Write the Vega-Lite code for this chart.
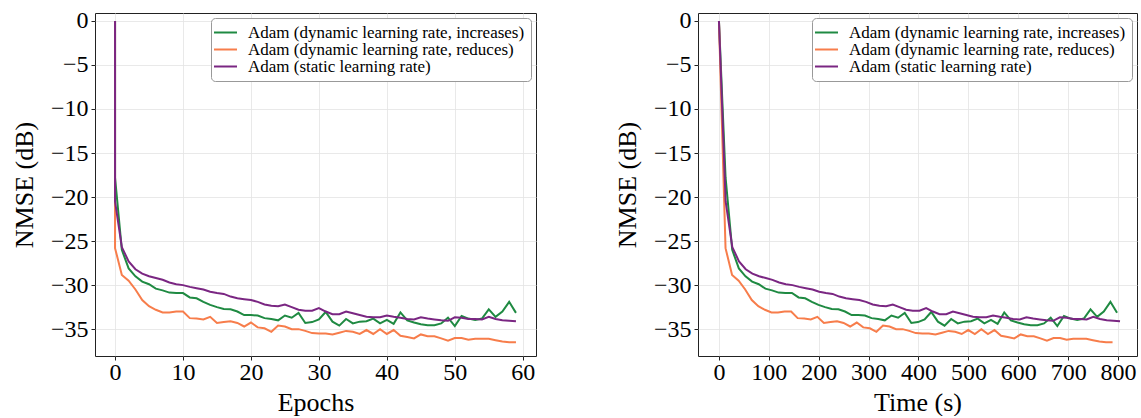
{
  "$schema": "https://vega.github.io/schema/vega-lite/v6.json",
  "padding": {"left": 10, "top": 8, "right": 4, "bottom": 0},
  "background": "white",
  "spacing": 162,
  "bounds": "flush",
  "config": {
    "font": "Liberation Serif",
    "view": {"stroke": "#222", "strokeWidth": 1},
    "text": {"font": "Liberation Serif"},
    "axis": {
      "labelFont": "Liberation Serif",
      "titleFont": "Liberation Serif",
      "labelFontSize": 24,
      "titleFontSize": 26,
      "titleFontWeight": "normal",
      "labelColor": "#000",
      "titleColor": "#000",
      "tickColor": "#222",
      "tickSize": 4,
      "domain": false,
      "grid": true,
      "gridColor": "#e3e3e3",
      "gridWidth": 0.8,
      "labelPadding": 3,
      "labelFlush": false,
      "labelOverlap": false
    },
    "axisY": {"titlePadding": 13},
    "axisX": {"titlePadding": 5, "labelPadding": 0},
    "legend": {
      "orient": "top-right",
      "offset": 5,
      "labelFont": "Liberation Serif",
      "labelFontSize": 17,
      "labelColor": "#000",
      "labelLimit": 0,
      "symbolType": "M-2,0H2",
      "symbolSize": 132,
      "symbolStrokeWidth": 2,
      "labelOffset": 14,
      "rowPadding": -3,
      "strokeColor": "#999",
      "fillColor": "white",
      "cornerRadius": 4,
      "padding": 6
    }
  },
  "data": {
    "values": [
      {"series": "Adam (dynamic learning rate, increases)", "i": 0, "epoch": 0, "time": 0, "nmse": 0},
      {"series": "Adam (dynamic learning rate, increases)", "i": 1, "epoch": 0, "time": 13.3, "nmse": -17.8},
      {"series": "Adam (dynamic learning rate, increases)", "i": 2, "epoch": 1, "time": 26.6, "nmse": -26.0},
      {"series": "Adam (dynamic learning rate, increases)", "i": 3, "epoch": 2, "time": 39.9, "nmse": -28.1},
      {"series": "Adam (dynamic learning rate, increases)", "i": 4, "epoch": 3, "time": 53.2, "nmse": -29.0},
      {"series": "Adam (dynamic learning rate, increases)", "i": 5, "epoch": 4, "time": 66.5, "nmse": -29.6},
      {"series": "Adam (dynamic learning rate, increases)", "i": 6, "epoch": 5, "time": 79.8, "nmse": -29.9},
      {"series": "Adam (dynamic learning rate, increases)", "i": 7, "epoch": 6, "time": 93.1, "nmse": -30.4},
      {"series": "Adam (dynamic learning rate, increases)", "i": 8, "epoch": 7, "time": 106.4, "nmse": -30.6},
      {"series": "Adam (dynamic learning rate, increases)", "i": 9, "epoch": 8, "time": 119.7, "nmse": -30.85},
      {"series": "Adam (dynamic learning rate, increases)", "i": 10, "epoch": 9, "time": 133.0, "nmse": -30.9},
      {"series": "Adam (dynamic learning rate, increases)", "i": 11, "epoch": 10, "time": 146.3, "nmse": -30.9},
      {"series": "Adam (dynamic learning rate, increases)", "i": 12, "epoch": 11, "time": 159.6, "nmse": -31.4},
      {"series": "Adam (dynamic learning rate, increases)", "i": 13, "epoch": 12, "time": 172.9, "nmse": -31.5},
      {"series": "Adam (dynamic learning rate, increases)", "i": 14, "epoch": 13, "time": 186.2, "nmse": -31.9},
      {"series": "Adam (dynamic learning rate, increases)", "i": 15, "epoch": 14, "time": 199.5, "nmse": -32.25},
      {"series": "Adam (dynamic learning rate, increases)", "i": 16, "epoch": 15, "time": 212.8, "nmse": -32.5},
      {"series": "Adam (dynamic learning rate, increases)", "i": 17, "epoch": 16, "time": 226.1, "nmse": -32.7},
      {"series": "Adam (dynamic learning rate, increases)", "i": 18, "epoch": 17, "time": 239.4, "nmse": -32.75},
      {"series": "Adam (dynamic learning rate, increases)", "i": 19, "epoch": 18, "time": 252.7, "nmse": -33.0},
      {"series": "Adam (dynamic learning rate, increases)", "i": 20, "epoch": 19, "time": 266.0, "nmse": -33.4},
      {"series": "Adam (dynamic learning rate, increases)", "i": 21, "epoch": 20, "time": 279.3, "nmse": -33.4},
      {"series": "Adam (dynamic learning rate, increases)", "i": 22, "epoch": 21, "time": 292.6, "nmse": -33.45},
      {"series": "Adam (dynamic learning rate, increases)", "i": 23, "epoch": 22, "time": 305.9, "nmse": -33.75},
      {"series": "Adam (dynamic learning rate, increases)", "i": 24, "epoch": 23, "time": 319.2, "nmse": -33.85},
      {"series": "Adam (dynamic learning rate, increases)", "i": 25, "epoch": 24, "time": 332.5, "nmse": -34.0},
      {"series": "Adam (dynamic learning rate, increases)", "i": 26, "epoch": 25, "time": 345.8, "nmse": -33.45},
      {"series": "Adam (dynamic learning rate, increases)", "i": 27, "epoch": 26, "time": 359.1, "nmse": -33.7},
      {"series": "Adam (dynamic learning rate, increases)", "i": 28, "epoch": 27, "time": 372.4, "nmse": -33.15},
      {"series": "Adam (dynamic learning rate, increases)", "i": 29, "epoch": 28, "time": 385.7, "nmse": -34.3},
      {"series": "Adam (dynamic learning rate, increases)", "i": 30, "epoch": 29, "time": 399.0, "nmse": -34.2},
      {"series": "Adam (dynamic learning rate, increases)", "i": 31, "epoch": 30, "time": 412.3, "nmse": -33.9},
      {"series": "Adam (dynamic learning rate, increases)", "i": 32, "epoch": 31, "time": 425.6, "nmse": -33.05},
      {"series": "Adam (dynamic learning rate, increases)", "i": 33, "epoch": 32, "time": 438.9, "nmse": -34.15},
      {"series": "Adam (dynamic learning rate, increases)", "i": 34, "epoch": 33, "time": 452.2, "nmse": -34.6},
      {"series": "Adam (dynamic learning rate, increases)", "i": 35, "epoch": 34, "time": 465.5, "nmse": -33.85},
      {"series": "Adam (dynamic learning rate, increases)", "i": 36, "epoch": 35, "time": 478.8, "nmse": -34.35},
      {"series": "Adam (dynamic learning rate, increases)", "i": 37, "epoch": 36, "time": 492.1, "nmse": -34.15},
      {"series": "Adam (dynamic learning rate, increases)", "i": 38, "epoch": 37, "time": 505.4, "nmse": -34.1},
      {"series": "Adam (dynamic learning rate, increases)", "i": 39, "epoch": 38, "time": 518.7, "nmse": -33.8},
      {"series": "Adam (dynamic learning rate, increases)", "i": 40, "epoch": 39, "time": 532.0, "nmse": -34.35},
      {"series": "Adam (dynamic learning rate, increases)", "i": 41, "epoch": 40, "time": 545.3, "nmse": -33.95},
      {"series": "Adam (dynamic learning rate, increases)", "i": 42, "epoch": 41, "time": 558.6, "nmse": -34.4},
      {"series": "Adam (dynamic learning rate, increases)", "i": 43, "epoch": 42, "time": 571.9, "nmse": -33.1},
      {"series": "Adam (dynamic learning rate, increases)", "i": 44, "epoch": 43, "time": 585.2, "nmse": -34.0},
      {"series": "Adam (dynamic learning rate, increases)", "i": 45, "epoch": 44, "time": 598.5, "nmse": -34.25},
      {"series": "Adam (dynamic learning rate, increases)", "i": 46, "epoch": 45, "time": 611.8, "nmse": -34.45},
      {"series": "Adam (dynamic learning rate, increases)", "i": 47, "epoch": 46, "time": 625.1, "nmse": -34.55},
      {"series": "Adam (dynamic learning rate, increases)", "i": 48, "epoch": 47, "time": 638.4, "nmse": -34.55},
      {"series": "Adam (dynamic learning rate, increases)", "i": 49, "epoch": 48, "time": 651.7, "nmse": -34.35},
      {"series": "Adam (dynamic learning rate, increases)", "i": 50, "epoch": 49, "time": 665.0, "nmse": -33.7},
      {"series": "Adam (dynamic learning rate, increases)", "i": 51, "epoch": 50, "time": 678.3, "nmse": -34.65},
      {"series": "Adam (dynamic learning rate, increases)", "i": 52, "epoch": 51, "time": 691.6, "nmse": -33.5},
      {"series": "Adam (dynamic learning rate, increases)", "i": 53, "epoch": 52, "time": 704.9, "nmse": -33.8},
      {"series": "Adam (dynamic learning rate, increases)", "i": 54, "epoch": 53, "time": 718.2, "nmse": -33.95},
      {"series": "Adam (dynamic learning rate, increases)", "i": 55, "epoch": 54, "time": 731.5, "nmse": -33.8},
      {"series": "Adam (dynamic learning rate, increases)", "i": 56, "epoch": 55, "time": 744.8, "nmse": -32.75},
      {"series": "Adam (dynamic learning rate, increases)", "i": 57, "epoch": 56, "time": 758.1, "nmse": -33.6},
      {"series": "Adam (dynamic learning rate, increases)", "i": 58, "epoch": 57, "time": 771.4, "nmse": -33.0},
      {"series": "Adam (dynamic learning rate, increases)", "i": 59, "epoch": 58, "time": 784.7, "nmse": -31.9},
      {"series": "Adam (dynamic learning rate, increases)", "i": 60, "epoch": 59, "time": 798.0, "nmse": -33.15},

      {"series": "Adam (dynamic learning rate, reduces)", "i": 0, "epoch": 0, "time": 0, "nmse": 0},
      {"series": "Adam (dynamic learning rate, reduces)", "i": 1, "epoch": 0, "time": 13.2, "nmse": -25.8},
      {"series": "Adam (dynamic learning rate, reduces)", "i": 2, "epoch": 1, "time": 26.3, "nmse": -28.85},
      {"series": "Adam (dynamic learning rate, reduces)", "i": 3, "epoch": 2, "time": 39.5, "nmse": -29.5},
      {"series": "Adam (dynamic learning rate, reduces)", "i": 4, "epoch": 3, "time": 52.6, "nmse": -30.5},
      {"series": "Adam (dynamic learning rate, reduces)", "i": 5, "epoch": 4, "time": 65.8, "nmse": -31.7},
      {"series": "Adam (dynamic learning rate, reduces)", "i": 6, "epoch": 5, "time": 78.9, "nmse": -32.4},
      {"series": "Adam (dynamic learning rate, reduces)", "i": 7, "epoch": 6, "time": 92.1, "nmse": -32.8},
      {"series": "Adam (dynamic learning rate, reduces)", "i": 8, "epoch": 7, "time": 105.2, "nmse": -33.1},
      {"series": "Adam (dynamic learning rate, reduces)", "i": 9, "epoch": 8, "time": 118.4, "nmse": -33.1},
      {"series": "Adam (dynamic learning rate, reduces)", "i": 10, "epoch": 9, "time": 131.5, "nmse": -33.0},
      {"series": "Adam (dynamic learning rate, reduces)", "i": 11, "epoch": 10, "time": 144.7, "nmse": -33.0},
      {"series": "Adam (dynamic learning rate, reduces)", "i": 12, "epoch": 11, "time": 157.8, "nmse": -33.75},
      {"series": "Adam (dynamic learning rate, reduces)", "i": 13, "epoch": 12, "time": 171.0, "nmse": -33.8},
      {"series": "Adam (dynamic learning rate, reduces)", "i": 14, "epoch": 13, "time": 184.1, "nmse": -33.9},
      {"series": "Adam (dynamic learning rate, reduces)", "i": 15, "epoch": 14, "time": 197.3, "nmse": -33.6},
      {"series": "Adam (dynamic learning rate, reduces)", "i": 16, "epoch": 15, "time": 210.4, "nmse": -34.3},
      {"series": "Adam (dynamic learning rate, reduces)", "i": 17, "epoch": 16, "time": 223.6, "nmse": -34.2},
      {"series": "Adam (dynamic learning rate, reduces)", "i": 18, "epoch": 17, "time": 236.7, "nmse": -34.1},
      {"series": "Adam (dynamic learning rate, reduces)", "i": 19, "epoch": 18, "time": 249.9, "nmse": -34.3},
      {"series": "Adam (dynamic learning rate, reduces)", "i": 20, "epoch": 19, "time": 263.0, "nmse": -34.7},
      {"series": "Adam (dynamic learning rate, reduces)", "i": 21, "epoch": 20, "time": 276.2, "nmse": -34.25},
      {"series": "Adam (dynamic learning rate, reduces)", "i": 22, "epoch": 21, "time": 289.3, "nmse": -34.8},
      {"series": "Adam (dynamic learning rate, reduces)", "i": 23, "epoch": 22, "time": 302.5, "nmse": -34.9},
      {"series": "Adam (dynamic learning rate, reduces)", "i": 24, "epoch": 23, "time": 315.6, "nmse": -35.3},
      {"series": "Adam (dynamic learning rate, reduces)", "i": 25, "epoch": 24, "time": 328.8, "nmse": -34.6},
      {"series": "Adam (dynamic learning rate, reduces)", "i": 26, "epoch": 25, "time": 341.9, "nmse": -34.7},
      {"series": "Adam (dynamic learning rate, reduces)", "i": 27, "epoch": 26, "time": 355.1, "nmse": -35.0},
      {"series": "Adam (dynamic learning rate, reduces)", "i": 28, "epoch": 27, "time": 368.2, "nmse": -35.0},
      {"series": "Adam (dynamic learning rate, reduces)", "i": 29, "epoch": 28, "time": 381.4, "nmse": -35.2},
      {"series": "Adam (dynamic learning rate, reduces)", "i": 30, "epoch": 29, "time": 394.5, "nmse": -35.45},
      {"series": "Adam (dynamic learning rate, reduces)", "i": 31, "epoch": 30, "time": 407.7, "nmse": -35.5},
      {"series": "Adam (dynamic learning rate, reduces)", "i": 32, "epoch": 31, "time": 420.8, "nmse": -35.5},
      {"series": "Adam (dynamic learning rate, reduces)", "i": 33, "epoch": 32, "time": 434.0, "nmse": -35.6},
      {"series": "Adam (dynamic learning rate, reduces)", "i": 34, "epoch": 33, "time": 447.1, "nmse": -35.4},
      {"series": "Adam (dynamic learning rate, reduces)", "i": 35, "epoch": 34, "time": 460.3, "nmse": -35.2},
      {"series": "Adam (dynamic learning rate, reduces)", "i": 36, "epoch": 35, "time": 473.4, "nmse": -35.3},
      {"series": "Adam (dynamic learning rate, reduces)", "i": 37, "epoch": 36, "time": 486.6, "nmse": -35.55},
      {"series": "Adam (dynamic learning rate, reduces)", "i": 38, "epoch": 37, "time": 499.7, "nmse": -35.1},
      {"series": "Adam (dynamic learning rate, reduces)", "i": 39, "epoch": 38, "time": 512.9, "nmse": -35.55},
      {"series": "Adam (dynamic learning rate, reduces)", "i": 40, "epoch": 39, "time": 526.0, "nmse": -35.0},
      {"series": "Adam (dynamic learning rate, reduces)", "i": 41, "epoch": 40, "time": 539.2, "nmse": -35.55},
      {"series": "Adam (dynamic learning rate, reduces)", "i": 42, "epoch": 41, "time": 552.3, "nmse": -35.1},
      {"series": "Adam (dynamic learning rate, reduces)", "i": 43, "epoch": 42, "time": 565.5, "nmse": -35.75},
      {"series": "Adam (dynamic learning rate, reduces)", "i": 44, "epoch": 43, "time": 578.6, "nmse": -35.9},
      {"series": "Adam (dynamic learning rate, reduces)", "i": 45, "epoch": 44, "time": 591.8, "nmse": -36.05},
      {"series": "Adam (dynamic learning rate, reduces)", "i": 46, "epoch": 45, "time": 604.9, "nmse": -35.6},
      {"series": "Adam (dynamic learning rate, reduces)", "i": 47, "epoch": 46, "time": 618.1, "nmse": -35.8},
      {"series": "Adam (dynamic learning rate, reduces)", "i": 48, "epoch": 47, "time": 631.2, "nmse": -35.8},
      {"series": "Adam (dynamic learning rate, reduces)", "i": 49, "epoch": 48, "time": 644.4, "nmse": -36.05},
      {"series": "Adam (dynamic learning rate, reduces)", "i": 50, "epoch": 49, "time": 657.5, "nmse": -36.3},
      {"series": "Adam (dynamic learning rate, reduces)", "i": 51, "epoch": 50, "time": 670.7, "nmse": -36.0},
      {"series": "Adam (dynamic learning rate, reduces)", "i": 52, "epoch": 51, "time": 683.8, "nmse": -36.0},
      {"series": "Adam (dynamic learning rate, reduces)", "i": 53, "epoch": 52, "time": 697.0, "nmse": -36.2},
      {"series": "Adam (dynamic learning rate, reduces)", "i": 54, "epoch": 53, "time": 710.1, "nmse": -36.1},
      {"series": "Adam (dynamic learning rate, reduces)", "i": 55, "epoch": 54, "time": 723.3, "nmse": -36.1},
      {"series": "Adam (dynamic learning rate, reduces)", "i": 56, "epoch": 55, "time": 736.4, "nmse": -36.1},
      {"series": "Adam (dynamic learning rate, reduces)", "i": 57, "epoch": 56, "time": 749.6, "nmse": -36.25},
      {"series": "Adam (dynamic learning rate, reduces)", "i": 58, "epoch": 57, "time": 762.7, "nmse": -36.4},
      {"series": "Adam (dynamic learning rate, reduces)", "i": 59, "epoch": 58, "time": 775.9, "nmse": -36.5},
      {"series": "Adam (dynamic learning rate, reduces)", "i": 60, "epoch": 59, "time": 789.0, "nmse": -36.5},

      {"series": "Adam (static learning rate)", "i": 0, "epoch": 0, "time": 0, "nmse": 0},
      {"series": "Adam (static learning rate)", "i": 1, "epoch": 0, "time": 13.4, "nmse": -20.5},
      {"series": "Adam (static learning rate)", "i": 2, "epoch": 1, "time": 26.8, "nmse": -25.7},
      {"series": "Adam (static learning rate)", "i": 3, "epoch": 2, "time": 40.2, "nmse": -27.3},
      {"series": "Adam (static learning rate)", "i": 4, "epoch": 3, "time": 53.6, "nmse": -28.2},
      {"series": "Adam (static learning rate)", "i": 5, "epoch": 4, "time": 67.0, "nmse": -28.7},
      {"series": "Adam (static learning rate)", "i": 6, "epoch": 5, "time": 80.4, "nmse": -29.0},
      {"series": "Adam (static learning rate)", "i": 7, "epoch": 6, "time": 93.8, "nmse": -29.2},
      {"series": "Adam (static learning rate)", "i": 8, "epoch": 7, "time": 107.2, "nmse": -29.4},
      {"series": "Adam (static learning rate)", "i": 9, "epoch": 8, "time": 120.6, "nmse": -29.7},
      {"series": "Adam (static learning rate)", "i": 10, "epoch": 9, "time": 134.0, "nmse": -29.9},
      {"series": "Adam (static learning rate)", "i": 11, "epoch": 10, "time": 147.4, "nmse": -30.0},
      {"series": "Adam (static learning rate)", "i": 12, "epoch": 11, "time": 160.8, "nmse": -30.2},
      {"series": "Adam (static learning rate)", "i": 13, "epoch": 12, "time": 174.2, "nmse": -30.35},
      {"series": "Adam (static learning rate)", "i": 14, "epoch": 13, "time": 187.6, "nmse": -30.5},
      {"series": "Adam (static learning rate)", "i": 15, "epoch": 14, "time": 201.0, "nmse": -30.75},
      {"series": "Adam (static learning rate)", "i": 16, "epoch": 15, "time": 214.4, "nmse": -30.9},
      {"series": "Adam (static learning rate)", "i": 17, "epoch": 16, "time": 227.8, "nmse": -31.0},
      {"series": "Adam (static learning rate)", "i": 18, "epoch": 17, "time": 241.2, "nmse": -31.3},
      {"series": "Adam (static learning rate)", "i": 19, "epoch": 18, "time": 254.6, "nmse": -31.5},
      {"series": "Adam (static learning rate)", "i": 20, "epoch": 19, "time": 268.0, "nmse": -31.6},
      {"series": "Adam (static learning rate)", "i": 21, "epoch": 20, "time": 281.4, "nmse": -31.7},
      {"series": "Adam (static learning rate)", "i": 22, "epoch": 21, "time": 294.8, "nmse": -31.9},
      {"series": "Adam (static learning rate)", "i": 23, "epoch": 22, "time": 308.2, "nmse": -32.2},
      {"series": "Adam (static learning rate)", "i": 24, "epoch": 23, "time": 321.6, "nmse": -32.35},
      {"series": "Adam (static learning rate)", "i": 25, "epoch": 24, "time": 335.0, "nmse": -32.4},
      {"series": "Adam (static learning rate)", "i": 26, "epoch": 25, "time": 348.4, "nmse": -32.2},
      {"series": "Adam (static learning rate)", "i": 27, "epoch": 26, "time": 361.8, "nmse": -32.5},
      {"series": "Adam (static learning rate)", "i": 28, "epoch": 27, "time": 375.2, "nmse": -32.8},
      {"series": "Adam (static learning rate)", "i": 29, "epoch": 28, "time": 388.6, "nmse": -32.9},
      {"series": "Adam (static learning rate)", "i": 30, "epoch": 29, "time": 402.0, "nmse": -32.9},
      {"series": "Adam (static learning rate)", "i": 31, "epoch": 30, "time": 415.4, "nmse": -32.6},
      {"series": "Adam (static learning rate)", "i": 32, "epoch": 31, "time": 428.8, "nmse": -33.0},
      {"series": "Adam (static learning rate)", "i": 33, "epoch": 32, "time": 442.2, "nmse": -33.3},
      {"series": "Adam (static learning rate)", "i": 34, "epoch": 33, "time": 455.6, "nmse": -33.3},
      {"series": "Adam (static learning rate)", "i": 35, "epoch": 34, "time": 469.0, "nmse": -33.0},
      {"series": "Adam (static learning rate)", "i": 36, "epoch": 35, "time": 482.4, "nmse": -33.2},
      {"series": "Adam (static learning rate)", "i": 37, "epoch": 36, "time": 495.8, "nmse": -33.4},
      {"series": "Adam (static learning rate)", "i": 38, "epoch": 37, "time": 509.2, "nmse": -33.6},
      {"series": "Adam (static learning rate)", "i": 39, "epoch": 38, "time": 522.6, "nmse": -33.65},
      {"series": "Adam (static learning rate)", "i": 40, "epoch": 39, "time": 536.0, "nmse": -33.65},
      {"series": "Adam (static learning rate)", "i": 41, "epoch": 40, "time": 549.4, "nmse": -33.45},
      {"series": "Adam (static learning rate)", "i": 42, "epoch": 41, "time": 562.8, "nmse": -33.6},
      {"series": "Adam (static learning rate)", "i": 43, "epoch": 42, "time": 576.2, "nmse": -33.7},
      {"series": "Adam (static learning rate)", "i": 44, "epoch": 43, "time": 589.6, "nmse": -33.85},
      {"series": "Adam (static learning rate)", "i": 45, "epoch": 44, "time": 603.0, "nmse": -33.9},
      {"series": "Adam (static learning rate)", "i": 46, "epoch": 45, "time": 616.4, "nmse": -33.65},
      {"series": "Adam (static learning rate)", "i": 47, "epoch": 46, "time": 629.8, "nmse": -33.8},
      {"series": "Adam (static learning rate)", "i": 48, "epoch": 47, "time": 643.2, "nmse": -33.9},
      {"series": "Adam (static learning rate)", "i": 49, "epoch": 48, "time": 656.6, "nmse": -34.0},
      {"series": "Adam (static learning rate)", "i": 50, "epoch": 49, "time": 670.0, "nmse": -34.05},
      {"series": "Adam (static learning rate)", "i": 51, "epoch": 50, "time": 683.4, "nmse": -33.65},
      {"series": "Adam (static learning rate)", "i": 52, "epoch": 51, "time": 696.8, "nmse": -33.7},
      {"series": "Adam (static learning rate)", "i": 53, "epoch": 52, "time": 710.2, "nmse": -33.85},
      {"series": "Adam (static learning rate)", "i": 54, "epoch": 53, "time": 723.6, "nmse": -33.85},
      {"series": "Adam (static learning rate)", "i": 55, "epoch": 54, "time": 737.0, "nmse": -33.9},
      {"series": "Adam (static learning rate)", "i": 56, "epoch": 55, "time": 750.4, "nmse": -33.6},
      {"series": "Adam (static learning rate)", "i": 57, "epoch": 56, "time": 763.8, "nmse": -33.85},
      {"series": "Adam (static learning rate)", "i": 58, "epoch": 57, "time": 777.2, "nmse": -34.0},
      {"series": "Adam (static learning rate)", "i": 59, "epoch": 58, "time": 790.6, "nmse": -34.05},
      {"series": "Adam (static learning rate)", "i": 60, "epoch": 59, "time": 804.0, "nmse": -34.1}
    ]
  },
  "resolve": {"scale": {"color": "independent", "x": "independent"}, "legend": {"color": "independent"}},
  "hconcat": [
    {
      "width": 441,
      "height": 343,
      "mark": {"type": "line", "strokeWidth": 2, "clip": true},
      "encoding": {
        "x": {"field": "epoch", "type": "quantitative",
              "scale": {"domain": [-2.95, 61.95], "nice": false, "zero": false},
              "axis": {"values": [0, 10, 20, 30, 40, 50, 60], "title": "Epochs"}},
        "y": {"field": "nmse", "type": "quantitative",
              "scale": {"domain": [-38.05, 0.9], "nice": false, "zero": false},
              "axis": {"values": [-35, -30, -25, -20, -15, -10, -5, 0], "title": "NMSE (dB)"}},
        "color": {"field": "series", "type": "nominal",
                  "scale": {"domain": ["Adam (dynamic learning rate, increases)", "Adam (dynamic learning rate, reduces)", "Adam (static learning rate)"],
                            "range": ["#1f8a42", "#f77d4b", "#7a2682"]},
                  "legend": {"title": null, "labelFont": "Liberation Serif", "labelFontSize": 17, "rowPadding": -3}},
        "order": {"field": "i", "type": "quantitative"}
      }
    },
    {
      "width": 439,
      "height": 343,
      "mark": {"type": "line", "strokeWidth": 2, "clip": true},
      "encoding": {
        "x": {"field": "time", "type": "quantitative",
              "scale": {"domain": [-42, 838], "nice": false, "zero": false},
              "axis": {"values": [0, 100, 200, 300, 400, 500, 600, 700, 800], "title": "Time (s)"}},
        "y": {"field": "nmse", "type": "quantitative",
              "scale": {"domain": [-38.05, 0.9], "nice": false, "zero": false},
              "axis": {"values": [-35, -30, -25, -20, -15, -10, -5, 0], "title": "NMSE (dB)"}},
        "color": {"field": "series", "type": "nominal",
                  "scale": {"domain": ["Adam (dynamic learning rate, increases)", "Adam (dynamic learning rate, reduces)", "Adam (static learning rate)"],
                            "range": ["#1f8a42", "#f77d4b", "#7a2682"]},
                  "legend": {"title": null, "labelFont": "Liberation Serif", "labelFontSize": 17, "rowPadding": -3}},
        "order": {"field": "i", "type": "quantitative"}
      }
    }
  ]
}
